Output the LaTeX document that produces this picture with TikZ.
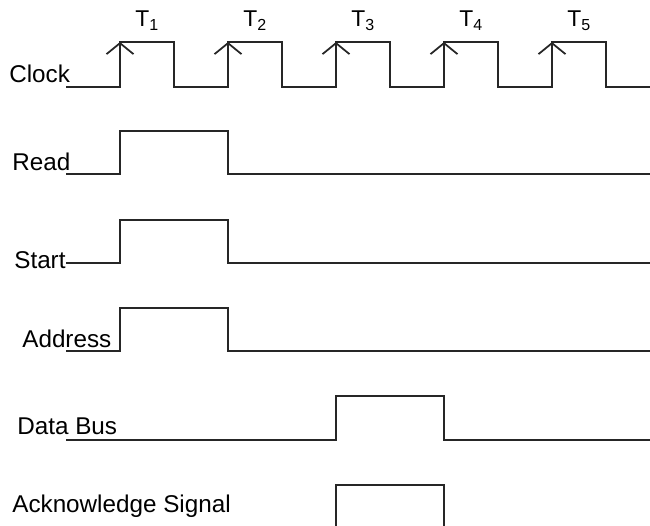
\documentclass[tikz,border=0pt]{standalone}
\usepackage{fontspec}
\setmainfont{Liberation Sans}
\usetikzlibrary{arrows.meta}

\tikzset{
	wave/.style={line width=1pt,black!85},
	lbl/.style={inner sep=0pt,anchor=base west,font=\fontsize{13.8}{16}\selectfont},
	tlbl/.style={inner sep=0pt,anchor=base west,font=\fontsize{13}{15}\selectfont}
}

\begin{document}
\begin{tikzpicture}[x=0.02cm,y=-0.02cm]
				\useasboundingbox (0,0) rectangle (650,526);

				% clock
				\draw[wave] (66,87) \foreach \r in {120,228,...,552}{ -- (\r,87) -- (\r,42) -- (\r+54,42) -- (\r+54,87) } -- (650,87);
				\foreach \r [count=\i] in {120,228,...,552}{
					\draw[wave,-{Straight Barb[length=0.22cm,width=0.54cm]}] (\r,87) -- (\r,42);
					\node[tlbl] (t\i) at (\r+15,27) {T\textsubscript{\i}};
				}
				\node[lbl] (clk) at (9,83) {Clock};

				% read, start, address
				\draw[wave] (66,174)--(120,174)--(120,131)--(228,131)--(228,174)--(650,174);
				\node[lbl] (rd) at (12,171) {Read};
				\draw[wave] (66,263)--(120,263)--(120,220)--(228,220)--(228,263)--(650,263);
				\node[lbl] (st) at (14,269) {Start};
				\draw[wave] (66,351)--(120,351)--(120,308)--(228,308)--(228,351)--(650,351);
				\node[lbl] (addr) at (22,348) {Address};

				% data bus, acknowledge
				\draw[wave] (66,440)--(336,440)--(336,396)--(444,396)--(444,440)--(650,440);
				\node[lbl] (data) at (17,435) {Data Bus};
				\draw[wave] (336,526)--(336,485)--(444,485)--(444,526);
				\node[lbl] (ack) at (12,513) {Acknowledge Signal};
\end{tikzpicture}
\end{document}
